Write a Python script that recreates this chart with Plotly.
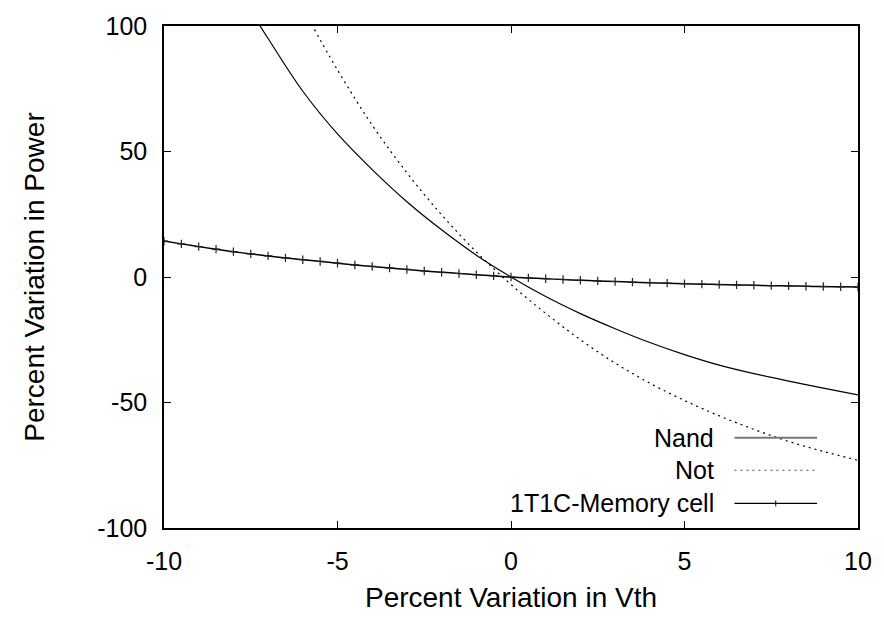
import plotly.graph_objects as go

# ---- data ----
nand_x = [-8, -7, -6, -5, -4, -3, -2, -1, 0, 1, 2, 3, 4, 5, 6, 7, 8, 9, 10]
nand_y = [117, 95, 74, 57, 42.8, 30.0, 18.8, 8.7, 0, -7.8, -14.6, -20.6, -26.1,
          -30.9, -35.1, -38.5, -41.5, -44.3, -47]

not_x = [-6, -5, -4, -3, -2, -1, 0, 1, 2, 3, 4, 5, 6, 7, 8, 9, 10]
not_y = [107, 82.5, 60.5, 41.5, 24.8, 10.0, -3, -14.5, -25, -34.3, -42.3,
         -49.2, -55.3, -60.7, -65.5, -69.5, -73]

mem_x = [-10, -9.5, -9, -8.5, -8, -7.5, -7, -6.5, -6, -5.5, -5, -4.5, -4, -3.5,
         -3, -2.5, -2, -1.5, -1, -0.5, 0, 0.5, 1, 1.5, 2, 2.5, 3, 3.5, 4, 4.5,
         5, 5.5, 6, 6.5, 7, 7.5, 8, 8.5, 9, 9.5, 10]
mem_y = [14.3, 13.2, 12.1, 11.1, 10.1, 9.2, 8.4, 7.6, 6.9, 6.2, 5.5, 4.8, 4.2,
         3.6, 3.0, 2.4, 1.9, 1.4, 0.9, 0.45, 0, -0.35, -0.7, -1.0, -1.3, -1.55,
         -1.8, -2.05, -2.25, -2.45, -2.65, -2.85, -3.0, -3.15, -3.3, -3.45,
         -3.55, -3.7, -3.8, -3.9, -4.0]

series_names = ["Nand", "Not", "1T1C-Memory cell"]
x_ticks = [-10, -5, 0, 5, 10]
y_ticks = [-100, -50, 0, 50, 100]

FONT = "Liberation Sans, Arial, sans-serif"
FS = 25
FT = 28

fig = go.Figure()
fig.add_trace(go.Scatter(x=nand_x, y=nand_y, mode="lines", name=series_names[0],
                         line=dict(color="black", width=1.2, shape="spline"),
                         showlegend=False))
fig.add_trace(go.Scatter(x=not_x, y=not_y, mode="lines", name=series_names[1],
                         line=dict(color="black", width=1.2, dash="2px,4px", shape="spline"),
                         showlegend=False))
fig.add_trace(go.Scatter(x=mem_x, y=mem_y, mode="lines+markers", name=series_names[2],
                         line=dict(color="black", width=1.5, shape="spline"),
                         marker=dict(symbol="cross-thin", size=6,
                                     line=dict(color="#222", width=1.2)),
                         showlegend=False))

# gnuplot-style key: text on the left, line sample on the right
key_y = [0.180, 0.115, 0.049]
key_dash = ["solid", "2px,4px", "solid"]
key_col = ["#777", "#444", "black"]
key_w = [2, 1.2, 1.2]
for i, name in enumerate(series_names):
    fig.add_annotation(xref="paper", yref="paper", x=0.795, y=key_y[i],
                       text=name, showarrow=False, xanchor="right", yanchor="middle",
                       font=dict(family=FONT, size=FS, color="black"))
    fig.add_shape(type="line", xref="paper", yref="paper", x0=0.822, x1=0.941,
                  y0=key_y[i], y1=key_y[i],
                  line=dict(color=key_col[i], width=key_w[i], dash=key_dash[i]))
fig.add_shape(type="line", xref="paper", yref="paper", x0=0.8815, x1=0.8815,
              y0=key_y[2] - 0.006, y1=key_y[2] + 0.006,
              line=dict(color="black", width=1))

axis_common = dict(showline=True, linecolor="black", linewidth=1.5, mirror="ticks",
                   ticks="inside", ticklen=7, tickcolor="black", tickwidth=1.2,
                   showgrid=False, zeroline=False,
                   tickfont=dict(family=FONT, size=FS, color="black"))

fig.update_xaxes(range=[-10, 10], tickvals=x_ticks, ticktext=[str(v) for v in x_ticks],
                 title=dict(text="Percent Variation in Vth",
                            font=dict(family=FONT, size=FT, color="black"), standoff=14),
                 ticklabelstandoff=10, **axis_common)
fig.update_yaxes(range=[-100, 100], tickvals=y_ticks, ticktext=[str(v) for v in y_ticks],
                 title=dict(text="Percent Variation in Power",
                            font=dict(family=FONT, size=FT, color="black"), standoff=44),
                 ticklabelstandoff=10, **axis_common)

fig.update_layout(width=884, height=629, paper_bgcolor="white", plot_bgcolor="white",
                  margin=dict(l=164, r=24, t=22, b=101), showlegend=False)

fig.write_html("out.html")
